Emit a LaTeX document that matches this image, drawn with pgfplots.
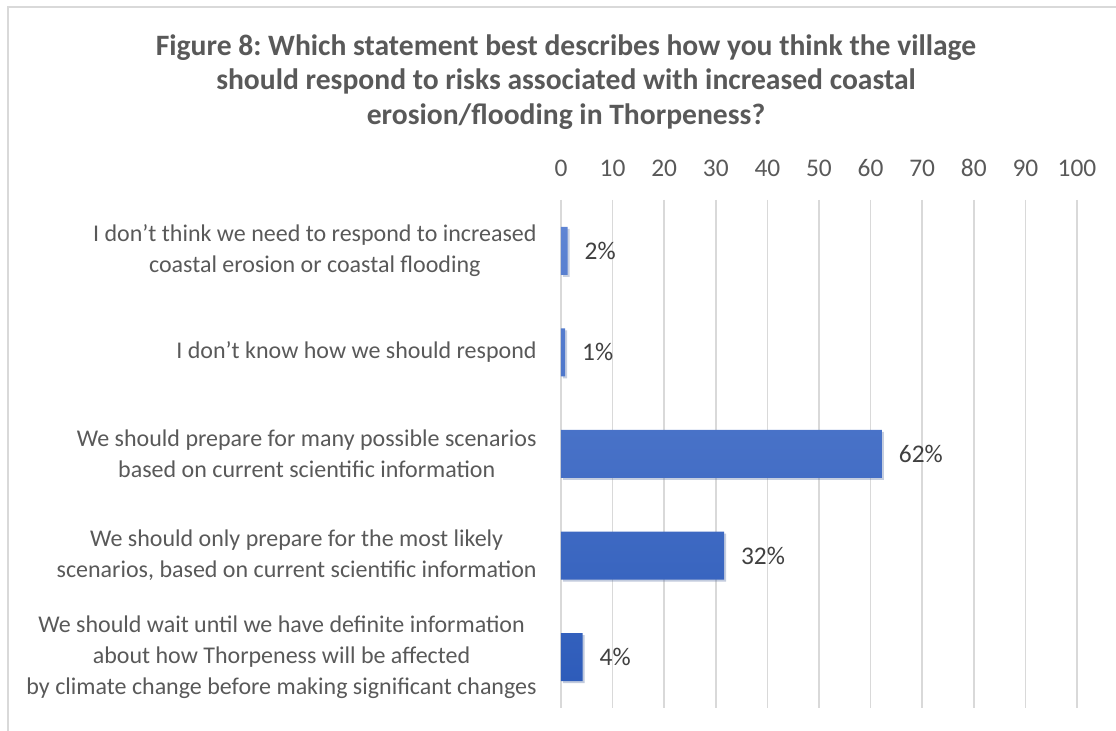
\documentclass[border=0pt]{standalone}
\usepackage{pgfplots}
\pgfplotsset{compat=1.18}
\usepackage{pgfplotstable}
\usepackage{fontspec}
\setmainfont{Carlito}
\usetikzlibrary{shadows}
\frenchspacing

\definecolor{txt}{HTML}{595959}
\definecolor{lbl}{HTML}{404040}
\definecolor{gridgray}{HTML}{D9D9D9}
\definecolor{bartop}{HTML}{5E84D3}
\definecolor{barbot}{HTML}{2E5CBA}

% idx = category position (top to bottom), val = bar length, pct = printed label
\pgfplotstableread{
idx val pct
0 1.3 2
1 0.8 1
2 62.2 62
3 31.6 32
4 4.2 4
}\responses

\begin{document}
\begin{tikzpicture}
\useasboundingbox (0pt,0pt) rectangle (558pt,365.5pt);
% chart frame (only top and left edges are inside the crop)
\draw[gridgray, line width=0.75pt] (4pt,-2pt) |- (562pt,362pt);

\begin{scope}[every node/.style={anchor=base, text=txt, font=\fontsize{14.8}{17}\selectfont\bfseries}]
\node at (283pt,337.5pt) {Figure 8: Which statement best describes how you think the village};
\node at (283pt,320.5pt) {should respond to risks associated with increased coastal};
\node at (283pt,303pt) {erosion/flooding in Thorpeness?};
\end{scope}

\begin{axis}[
  at={(280.5pt,11.5pt)}, anchor=south west,
  scale only axis,
  width=258pt, height=254pt,
  xbar, bar width=24pt,
  xmin=0, xmax=100,
  ymin=-0.5, ymax=4.5,
  y dir=reverse,
  xtick={0,10,...,100},
  xticklabel pos=upper,
  ytick={0,1,2,3,4},
  yticklabels={
    {I don’t think we need to respond to increased\\coastal erosion or coastal flooding},
    {I don’t know how we should respond},
    {We should prepare for many possible scenarios\\based on current scientific information},
    {We should only prepare for the most likely\\scenarios, based on current scientific information},
    {We should wait until we have definite information\\about how Thorpeness will be affected\\by climate change before making significant changes}
  },
  axis line style={draw=none},
  tick style={draw=none},
  major tick length=0pt,
  xmajorgrids,
  grid style={gridgray, line width=0.75pt},
  /pgf/number format/assume math mode=true,
  xticklabel style={anchor=base, yshift=11.7pt, inner sep=0pt, text=txt,
    font=\fontsize{12.7}{15}\selectfont},
  yticklabel style={anchor=east, align=center, inner sep=0pt, xshift=-12pt,
    text=txt, font=\fontsize{12}{15.5}\selectfont},
  point meta=explicit,
  nodes near coords={\pgfmathprintnumber{\pgfplotspointmeta}\%},
  every node near coord/.append style={anchor=west, inner sep=0pt, xshift=8.3pt,
    text=lbl, font=\fontsize{12.7}{15}\selectfont},
]
\addplot[draw=none, top color=bartop, bottom color=barbot,
  drop shadow={opacity=0.2, shadow xshift=1pt, shadow yshift=-1pt}]
  table[x=val, y=idx, meta=pct] {\responses};
\end{axis}
\end{tikzpicture}
\end{document}
